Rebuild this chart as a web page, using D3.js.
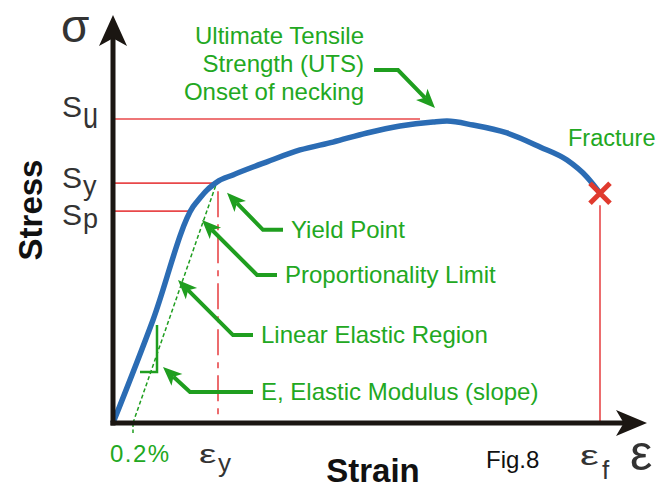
<!DOCTYPE html>
<html>
<head>
<meta charset="utf-8">
<script src="https://cdn.jsdelivr.net/npm/d3@7"></script>
<style>
  body { margin: 0; background: #fff; }
  text { font-family: "Liberation Sans", Arial, sans-serif; }
</style>
</head>
<body>
<svg id="chart"></svg>
<script>
// Stress-strain curve (strain in %, stress in % of Su)
const strain = [0, 0.40, 0.80, 0.87, 0.94, 1.00, 1.04, 1.20, 1.54, 1.87, 2.20, 2.54, 2.87, 3.20, 3.34, 3.60, 3.94, 4.27, 4.54, 4.74, 4.87];
const stress = [0, 33.9, 71.1, 74.0, 76.6, 78.3, 79.3, 81.6, 85.9, 89.8, 92.4, 95.4, 97.7, 99.0, 99.3, 98.0, 95.4, 90.8, 86.5, 80.9, 75.6];

// stress levels on the y axis
const levelSubs = ['u', 'y', 'p'];
const levelValues = [100, 78.9, 69.7];
const levelEnds = [3.07, 0.99, 0.77];

// strain marks on the x axis
const offsetStrain = 0.2;
const yieldStrain = 1.05;
const fractureStrain = 4.87;

// annotation labels and the points they point at
const noteTexts = ['Yield Point', 'Proportionality Limit', 'Linear Elastic Region', 'E, Elastic Modulus (slope)'];
const noteStrain = [1.14, 0.89, 0.65, 0.50];
const noteStress = [75.7, 66.8, 47.0, 18.4];
const utsLines = ['Ultimate Tensile', 'Strength (UTS)', 'Onset of necking'];
const utsTip = [3.22, 103.6];

class StressStrain {
    constructor(_config) {
        this.config = {
            parentElement: _config.parentElement,
            containerWidth: _config.containerWidth || 668,
            containerHeight: _config.containerHeight || 490
        };
        this.initVis();
    }

    initVis() {
        let vis = this;

        vis.svg = d3.select(vis.config.parentElement)
            .attr('width', vis.config.containerWidth)
            .attr('height', vis.config.containerHeight);

        vis.xScale = d3.scaleLinear().domain([0, 5.34]).range([113, 647]);
        vis.yScale = d3.scaleLinear().domain([0, 134.2]).range([423, 15]);

        vis.green = '#1f9e1f';
        vis.red = '#e8484a';
        vis.ink = '#1b1612';

        vis.renderVis();
    }

    arrowHead(g, tip, from, len, half, fill) {
        let dx = tip[0] - from[0], dy = tip[1] - from[1];
        let d = Math.hypot(dx, dy);
        let ux = dx / d, uy = dy / d;
        let bx = tip[0] - ux * len, by = tip[1] - uy * len;
        let nx = tip[0] - ux * len * 0.75, ny = tip[1] - uy * len * 0.75;
        g.append('path')
            .attr('d', `M${tip[0]},${tip[1]}L${bx - uy * half},${by + ux * half}L${nx},${ny}L${bx + uy * half},${by - ux * half}Z`)
            .attr('fill', fill);
        return [nx, ny];
    }

    renderVis() {
        let vis = this;
        const x = vis.xScale, y = vis.yScale;
        const x0 = x(0), y0 = y(0);

        // reference lines for Su, Sy, Sp
        vis.svg.selectAll('.level')
            .data(levelValues)
            .join('line')
            .attr('class', 'level')
            .attr('x1', x0)
            .attr('x2', (d, i) => x(levelEnds[i]))
            .attr('y1', d => y(d))
            .attr('y2', d => y(d))
            .attr('stroke', vis.red)
            .attr('stroke-width', 1.6);

        // epsilon_y dash-dot line
        vis.svg.append('line')
            .attr('x1', x(yieldStrain)).attr('x2', x(yieldStrain))
            .attr('y1', y(levelValues[1]) + 8).attr('y2', y0)
            .attr('stroke', vis.red)
            .attr('stroke-width', 1.6)
            .attr('stroke-dasharray', '26,7,6,7');

        // fracture drop line
        vis.svg.append('line')
            .attr('x1', x(fractureStrain)).attr('x2', x(fractureStrain))
            .attr('y1', y(stress[stress.length - 1]) + 12).attr('y2', y0)
            .attr('stroke', vis.red)
            .attr('stroke-width', 1.6);

        // 0.2% offset line
        vis.svg.append('line')
            .attr('x1', x(offsetStrain)).attr('y1', y0)
            .attr('x2', x(strain[6])).attr('y2', y(stress[6]))
            .attr('stroke', vis.green)
            .attr('stroke-width', 1.5)
            .attr('stroke-dasharray', '4,2.5');
        vis.svg.append('line')
            .attr('x1', x(offsetStrain)).attr('x2', x(offsetStrain))
            .attr('y1', y0).attr('y2', y0 + 10)
            .attr('stroke', vis.green)
            .attr('stroke-width', 1.5)
            .attr('stroke-dasharray', '4,2.5');

        // slope triangle
        vis.svg.append('path')
            .attr('d', `M${x(0.44)},${y(32.2)}V${y(16.8)}H${x(0.27)}`)
            .attr('fill', 'none')
            .attr('stroke', vis.green)
            .attr('stroke-width', 2.5);

        // the curve
        const pts = strain.map((d, i) => [d, stress[i]]);
        vis.svg.append('path')
            .datum(pts)
            .attr('d', d3.line().x(d => x(d[0])).y(d => y(d[1])).curve(d3.curveMonotoneX))
            .attr('fill', 'none')
            .attr('stroke', '#2b6cb4')
            .attr('stroke-width', 5.5);

        // fracture cross
        const fx = x(fractureStrain), fy = y(stress[stress.length - 1]);
        vis.svg.append('path')
            .attr('d', `M${fx - 10},${fy - 10}L${fx + 10},${fy + 10}M${fx + 10},${fy - 10}L${fx - 10},${fy + 10}`)
            .attr('stroke', '#e03a2e')
            .attr('stroke-width', 5);

        // axes with arrow heads
        const axes = vis.svg.append('g');
        axes.append('line')
            .attr('x1', x0).attr('x2', x0)
            .attr('y1', y0 + 2.5).attr('y2', y.range()[1] + 20)
            .attr('stroke', vis.ink).attr('stroke-width', 5);
        axes.append('line')
            .attr('x1', x0 - 2.5).attr('x2', x.range()[1] - 20)
            .attr('y1', y0).attr('y2', y0)
            .attr('stroke', vis.ink).attr('stroke-width', 5);
        vis.arrowHead(axes, [x0, y.range()[1]], [x0, y0], 31, 14, vis.ink);
        vis.arrowHead(axes, [x.range()[1], y0], [x0, y0], 31, 13, vis.ink);

        // annotation leaders
        const notes = vis.svg.append('g');
        const leaderOffsets = [[36, 37], [55, 55], [55, 55], [27, 25]];
        const tailLengths = [20, 20, 20, 63];
        noteTexts.forEach((t, i) => {
            let tip = [x(noteStrain[i]), y(noteStress[i])];
            let elbow = [tip[0] + leaderOffsets[i][0], tip[1] + leaderOffsets[i][1]];
            let end = [elbow[0] + tailLengths[i], elbow[1]];
            let neck = vis.arrowHead(notes, tip, elbow, 19, 8, vis.green);
            notes.append('path')
                .attr('d', `M${neck[0]},${neck[1]}L${elbow[0]},${elbow[1]}L${end[0]},${end[1]}`)
                .attr('fill', 'none')
                .attr('stroke', vis.green)
                .attr('stroke-width', 4);
            notes.append('text')
                .attr('x', end[0] + 8)
                .attr('y', end[1] + 8)
                .attr('font-size', 24)
                .attr('fill', '#22a822')
                .text(t);
        });

        // UTS leader
        let uTip = [x(utsTip[0]), y(utsTip[1])];
        let uElbow = [uTip[0] - 37, uTip[1] - 38];
        let uEnd = [uElbow[0] - 24, uElbow[1]];
        let uNeck = vis.arrowHead(notes, uTip, uElbow, 19, 8, vis.green);
        notes.append('path')
            .attr('d', `M${uNeck[0]},${uNeck[1]}L${uElbow[0]},${uElbow[1]}L${uEnd[0]},${uEnd[1]}`)
            .attr('fill', 'none')
            .attr('stroke', vis.green)
            .attr('stroke-width', 4);
        notes.selectAll('.uts')
            .data(utsLines)
            .join('text')
            .attr('class', 'uts')
            .attr('x', uEnd[0] - 10)
            .attr('y', (d, i) => uEnd[1] + 2 + (i - 1) * 28)
            .attr('text-anchor', 'end')
            .attr('font-size', 24)
            .attr('fill', '#22a822')
            .text(d => d);

        notes.append('text')
            .attr('x', fx - 32)
            .attr('y', fy - 47)
            .attr('font-size', 23.5)
            .attr('fill', '#22a822')
            .text('Fracture');

        // stress level labels (S with subscript)
        const labels = vis.svg.append('g').attr('fill', '#333');
        const sShift = [-2, 5, 14];
        const subShift = [9, 12, 17];
        levelValues.forEach((v, i) => {
            let base = y(v);
            labels.append('text')
                .attr('x', 62).attr('y', base + sShift[i])
                .attr('font-size', 30)
                .text('S');
            labels.append('text')
                .attr('transform', `translate(83,${base + subShift[i]}) scale(1,${i === 0 ? 1.4 : 1})`)
                .attr('font-size', 27)
                .text(levelSubs[i]);
        });
        labels.append('text')
            .attr('x', 61).attr('y', 42)
            .attr('font-size', 46)
            .text('σ');

        // strain labels
        labels.append('text')
            .attr('x', x(offsetStrain) - 23).attr('y', y0 + 39)
            .attr('font-size', 24)
            .attr('letter-spacing', 1.5)
            .attr('fill', '#22a822')
            .text('0.2%');
        labels.append('text')
            .attr('transform', `translate(${x(yieldStrain) - 19},${y0 + 40}) scale(1.5,1)`)
            .attr('font-size', 26)
            .text('ε');
        labels.append('text')
            .attr('x', x(yieldStrain)).attr('y', y0 + 49)
            .attr('font-size', 26)
            .text('y');
        labels.append('text')
            .attr('transform', `translate(${fx - 20},${y0 + 42}) scale(1.5,1)`)
            .attr('font-size', 28)
            .text('ε');
        labels.append('text')
            .attr('x', fx + 2).attr('y', y0 + 56)
            .attr('font-size', 26)
            .text('f');
        labels.append('text')
            .attr('x', x.range()[1] - 17).attr('y', y0 + 47)
            .attr('font-size', 50)
            .text('ε');

        // axis titles
        vis.svg.append('text')
            .attr('transform', `translate(42,210) rotate(-90)`)
            .attr('text-anchor', 'middle')
            .attr('font-size', 33)
            .attr('font-weight', 'bold')
            .attr('fill', '#111')
            .text('Stress');
        vis.svg.append('text')
            .attr('x', 373).attr('y', 482)
            .attr('text-anchor', 'middle')
            .attr('font-size', 33)
            .attr('font-weight', 'bold')
            .attr('fill', '#111')
            .text('Strain');
        vis.svg.append('text')
            .attr('x', 486).attr('y', 468)
            .attr('font-size', 24)
            .attr('fill', '#111')
            .text('Fig.8');
    }
}

new StressStrain({ parentElement: '#chart' });
</script>
</body>
</html>
